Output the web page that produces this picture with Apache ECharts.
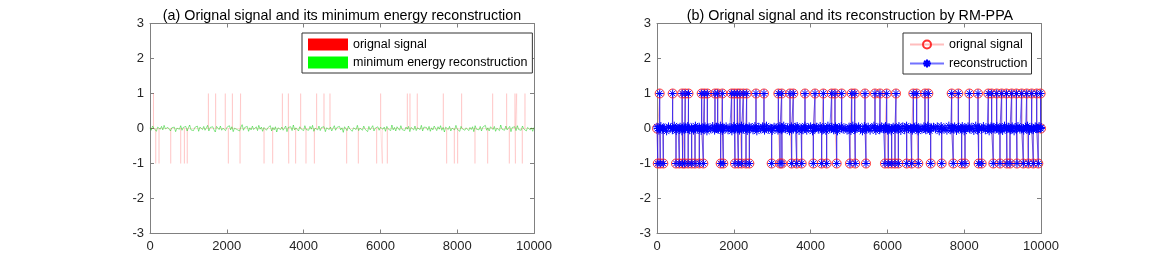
<!DOCTYPE html>
<html><head><meta charset="utf-8">
<script src="https://cdn.jsdelivr.net/npm/echarts@6/dist/echarts.min.js"></script>
<style>html,body{margin:0;padding:0;background:#fff}#c{width:1152px;height:263px}</style>
</head><body><div id="c"></div>
<script>
// ---------- data ----------
const xTicks = [0, 2000, 4000, 6000, 8000, 10000];
const yTicks = [-3, -2, -1, 0, 1, 2, 3];
// (a) sparse original signal: spike positions (+1 / -1)
const aUp = [90, 1520, 1710, 1960, 2145, 2360, 3447, 3603, 3924, 4340, 4531, 4687, 6007, 6701, 6770, 6960, 7638, 8116, 8924, 9288, 9505, 9549, 9765];
const aDown = [150, 235, 540, 800, 895, 970, 2040, 2345, 2970, 3195, 3613, 3793, 4062, 4280, 5122, 5425, 5903, 6050, 6180, 7726, 7925, 8012, 8463, 8794, 9357, 9515, 9695];
// (a) minimum energy reconstruction (small values around 0)
const aRecon = [
 0.02,-0.05,0.07,0.01,-0.03,-0.08,0.04,0.00,-0.02,0.06,-0.04,0.09,-0.01,-0.06,0.03,0.05,-0.07,0.02,-0.03,0.04,
 -0.09,0.01,0.05,-0.02,0.08,-0.05,0.03,-0.01,0.06,-0.07,0.02,0.10,-0.04,0.01,-0.06,0.03,-0.02,0.07,-0.08,0.04,
 0.00,-0.03,0.06,-0.05,0.02,0.09,-0.07,0.03,-0.01,0.05,-0.04,-0.10,0.06,0.02,-0.03,0.07,-0.05,0.01,0.04,-0.06,
 0.03,-0.02,0.08,-0.04,0.05,-0.09,0.01,0.06,-0.03,0.02,-0.07,0.04,0.11,-0.05,0.03,-0.01,0.06,-0.08,0.02,-0.04,
 0.07,-0.03,0.01,0.05,-0.06,0.09,-0.02,0.04,-0.08,0.03,0.06,-0.05,0.02,-0.01,0.08,-0.07,0.03,-0.04,0.05,-0.10,
 0.02,0.06,-0.03,0.04,-0.05,0.01,0.07,-0.09,0.03,-0.02,0.05,-0.06,0.10,-0.04,0.02,0.03,-0.07,0.05,-0.01,0.04,
 -0.06,0.08,-0.03,0.02,-0.05,0.06,-0.02,0.09,-0.08,0.01,0.04,-0.04,0.07,-0.06,0.03,-0.01,0.05,-0.09,0.02,0.06,
 -0.03,0.04,-0.07,0.01,0.08,-0.05,0.03,-0.02,0.06,-0.04,0.02,-0.11,0.05,0.03,-0.06,0.07,-0.01,0.04,-0.08,0.02,
 0.05,-0.03,0.09,-0.06,0.01,0.04,-0.05,0.07,-0.02,0.03,-0.09,0.06,-0.04,0.02,0.08,-0.07,0.01,-0.03,0.05,-0.05,
 0.03,0.07,-0.02,0.04,-0.08,0.06,-0.01,0.02,-0.06,0.10,-0.04,0.03,-0.07,0.05,0.01,-0.05,0.08,-0.03,0.02,-0.06,
 0.04,-0.02,0.06,-0.09,0.03,0.01,-0.04,0.07,-0.06,0.02,0.05,-0.03,0.09,-0.07,0.04,-0.01,0.03,-0.05,0.06,-0.08,
 0.02,-0.04,0.07,0.01,-0.06,0.05,-0.02,0.08,-0.05,0.03,-0.10,0.04,0.02,-0.03,0.06,-0.07,0.01,0.05,-0.04,0.09,
 -0.02,0.03,-0.08,0.06,-0.01,0.04,-0.05,0.02,0.07,-0.06,0.03,-0.03,0.05,-0.09,0.08,-0.02,0.01,-0.04,0.06,-0.07,
 0.04,-0.01,0.09,-0.05,0.02,-0.07,0.05,0.03,-0.03,0.06,-0.08,0.01,0.04,-0.06,0.10,-0.02,0.03,-0.05,0.07,-0.04,
 0.01,0.06,-0.09,0.03,-0.02,0.05,-0.06,0.08,-0.03,0.02,-0.05,0.07,-0.01,0.04,-0.07,0.03,0.06,-0.04,0.02,-0.08,
 0.03];
// (b) original signal spikes (+1 / -1)
const bUp = [70, 408, 655, 735, 820, 1163, 1233, 1311, 1510, 1580, 1701, 1944, 2014, 2092, 2161, 2248, 2335, 2578, 2786, 3160, 3247, 3464, 3550, 3854, 4115, 4332, 4549, 4635, 4809, 5070, 5150, 5417, 5677, 5807, 5981, 6224, 6675, 6762, 6979, 7066, 7674, 7847, 8134, 8360, 8628, 8715, 8846, 8976, 9100, 9237, 9360, 9497, 9628, 9758, 9888, 9990];
const bDown = [20, 85, 165, 495, 581, 668, 722, 812, 903, 990, 1102, 1207, 1658, 1727, 2031, 2118, 2205, 2318, 2405, 2986, 3203, 3254, 3507, 3638, 3768, 4071, 4288, 4418, 4679, 5026, 5162, 5443, 5937, 6024, 6111, 6198, 6285, 6502, 6632, 6805, 7127, 7414, 7716, 7934, 8021, 8376, 8455, 8758, 8932, 9112, 9193, 9374, 9540, 9670, 9800, 9930];
// (b) reconstruction residual around 0
const bNoise = [
 0.05,-0.06,0.07,-0.03,0.02,-0.08,0.06,0.03,-0.05,0.08,-0.07,0.02,0.05,-0.08,0.06,-0.02,0.07,-0.05,0.03,-0.06,
 0.08,-0.03,0.05,-0.07,0.02,0.06,-0.08,0.03,-0.02,0.07,-0.06,0.05,-0.03,0.08,-0.07,0.02,0.06,-0.05,0.03,-0.08,
 0.07,-0.02,0.05,-0.06,0.08,-0.03,0.02,-0.07,0.06,0.03,-0.05,0.07,-0.08,0.05,-0.02,0.06,-0.06,0.08,-0.03,0.02,
 -0.07,0.05,0.03,-0.06,0.07,-0.05,0.08,-0.02,0.03,-0.08,0.06,-0.03,0.05,0.07,-0.07,0.02,-0.05,0.08,-0.06,0.03,
 0.06,-0.08,0.02,0.05,-0.03,0.07,-0.06,0.03,-0.07,0.08,-0.02,0.05,-0.05,0.06,-0.08,0.03,0.07,-0.03,0.02,-0.06,
 0.05,-0.07,0.08,-0.05,0.03,0.06,-0.02,-0.08,0.07,-0.03,0.05,-0.06,0.02,0.08,-0.07,0.03,-0.05,0.06,-0.02,0.07,
 -0.06,0.03,-0.08,0.05,0.02,-0.03,0.07,-0.07,0.06,-0.05,0.08,-0.02,0.03,-0.06,0.05,0.07,-0.08,0.02,-0.03,0.06,
 -0.05,0.08,-0.07,0.03,0.05,-0.02,0.06,-0.08,0.07,-0.03,0.02,-0.06,0.08,-0.05,0.03,0.06,-0.07,0.05,-0.02,0.07,
 -0.08,0.02,0.06,-0.03,0.05,-0.07,0.08,-0.06,0.03,-0.02,0.07,-0.05,0.02,-0.08,0.06,0.05,-0.03,0.07,-0.06,0.03,
 -0.07,0.08,-0.02,0.05,-0.05,0.06,-0.08,0.03,0.07,-0.03,0.02,-0.06,0.05,0.08,-0.07,0.03,-0.05,0.06,-0.02,0.07,
 0.03];
const N = 10000;

// ---------- build series ----------
function spikeSeries(up, down) {
  const pts = [[0, 0], [N, 0]];
  up.forEach(p => { pts.push([p - 1, 0], [p, 1], [p + 1, 0]); });
  down.forEach(p => { pts.push([p - 1, 0], [p, -1], [p + 1, 0]); });
  pts.sort((a, b) => a[0] - b[0]);
  return pts;
}
function noiseSeries(vals) {
  const step = N / (vals.length - 1);
  return vals.map((v, i) => [Math.round(i * step), v]);
}
const aSig = spikeSeries(aUp, aDown);
const aRec = noiseSeries(aRecon);
const bSigPts = spikeSeries(bUp, bDown);
const bSig = bSigPts.map(p => (p[1] === 0 && p[0] !== 0 && p[0] !== N) ? { value: p, symbol: 'none' } : { value: p });
const bRec = bSigPts.filter(p => p[0] !== 0 && p[0] !== N).concat(noiseSeries(bNoise))
  .sort((a, b) => a[0] - b[0]);

const FONT = 'Liberation Sans, Arial, sans-serif';
const axisCol = '#808080';
const textCol = '#262626';
const asterisk = 'path://M0,-10L0,10M-10,0L10,0M-7,-7L7,7M-7,7L7,-7';

function xAx(gi, pos, lab) {
  return { type: 'value', gridIndex: gi, position: pos, min: 0, max: 10000, interval: 2000,
    axisLine: { show: true, onZero: false, lineStyle: { color: axisCol } },
    axisTick: { show: true, inside: true, length: 4, lineStyle: { color: axisCol } },
    axisLabel: { show: lab, color: textCol, fontSize: 13, fontFamily: FONT, margin: 6, formatter: v => String(v) },
    splitLine: { show: false } };
}
function yAx(gi, pos, lab) {
  return { type: 'value', gridIndex: gi, position: pos, min: -3, max: 3, interval: 1,
    axisLine: { show: true, onZero: false, lineStyle: { color: axisCol } },
    axisTick: { show: true, inside: true, length: 4, lineStyle: { color: axisCol } },
    axisLabel: { show: lab, color: textCol, fontSize: 13, fontFamily: FONT, margin: 6 },
    splitLine: { show: false } };
}

const chart = echarts.init(document.getElementById('c'), null, { renderer: 'canvas' });
chart.setOption({
  animation: false,
  backgroundColor: '#fff',
  title: [
    { text: '(a) Orignal signal and its minimum energy reconstruction', left: 337, top: 4, textAlign: 'center',
      textStyle: { fontSize: 14.3, fontWeight: 'normal', color: '#000', fontFamily: FONT } },
    { text: '(b) Orignal signal and its reconstruction by RM-PPA', left: 845, top: 4, textAlign: 'center',
      textStyle: { fontSize: 14.3, fontWeight: 'normal', color: '#000', fontFamily: FONT } }
  ],
  legend: [
    { data: [{ name: 'orignal signal', itemStyle: { color: '#ff0000' } },
             { name: 'minimum energy reconstruction', itemStyle: { color: '#00ff00' } }],
      orient: 'vertical', left: 302, top: 33, icon: 'rect', itemWidth: 40, itemHeight: 12, itemGap: 5,
      padding: [5, 5, 4, 6], borderColor: '#333', borderWidth: 1, borderRadius: 0, backgroundColor: '#fff',
      textStyle: { fontSize: 12.5, color: '#000', fontFamily: FONT }, selectedMode: false },
    { data: ['orignal signal ', 'reconstruction'],
      orient: 'vertical', left: 903, top: 33, itemWidth: 34, itemHeight: 10, itemGap: 6,
      padding: [5, 4, 4, 6], borderColor: '#333', borderWidth: 1, borderRadius: 0, backgroundColor: '#fff',
      textStyle: { fontSize: 12.5, color: '#000', fontFamily: FONT }, selectedMode: false }
  ],
  grid: [
    { left: 150, top: 23.5, width: 384, height: 210 },
    { left: 657, top: 23.5, width: 384, height: 210 }
  ],
  xAxis: [xAx(0, 'bottom', true), xAx(0, 'top', false), xAx(1, 'bottom', true), xAx(1, 'top', false)],
  yAxis: [yAx(0, 'left', true), yAx(0, 'right', false), yAx(1, 'left', true), yAx(1, 'right', false)],
  series: [
    { name: 'orignal signal', type: 'line', xAxisIndex: 0, yAxisIndex: 0, data: aSig, showSymbol: false,
      symbol: 'none', lineStyle: { color: 'rgba(255,0,0,0.12)', width: 1 }, itemStyle: { color: 'rgba(255,0,0,0.12)' } },
    { name: 'minimum energy reconstruction', type: 'line', xAxisIndex: 0, yAxisIndex: 0, data: aRec,
      symbol: 'none', lineStyle: { color: 'rgba(0,200,0,0.45)', width: 1 }, itemStyle: { color: '#00ff00' } },
    { name: 'orignal signal ', type: 'line', xAxisIndex: 2, yAxisIndex: 2, data: bSig,
      symbol: 'circle', symbolSize: 9, showAllSymbol: true,
      lineStyle: { color: 'rgba(255,90,90,0.4)', width: 1 },
      itemStyle: { color: 'rgba(255,255,255,0)', borderColor: '#ff3030', borderWidth: 1 } },
    { name: 'reconstruction', type: 'line', xAxisIndex: 2, yAxisIndex: 2, data: bRec,
      symbol: asterisk, symbolSize: 8, showAllSymbol: true,
      lineStyle: { color: 'rgba(20,20,255,0.6)', width: 1 },
      itemStyle: { color: '#0000ff', borderColor: '#0000ff', borderWidth: 1 } }
  ]
});
</script>
</body></html>
